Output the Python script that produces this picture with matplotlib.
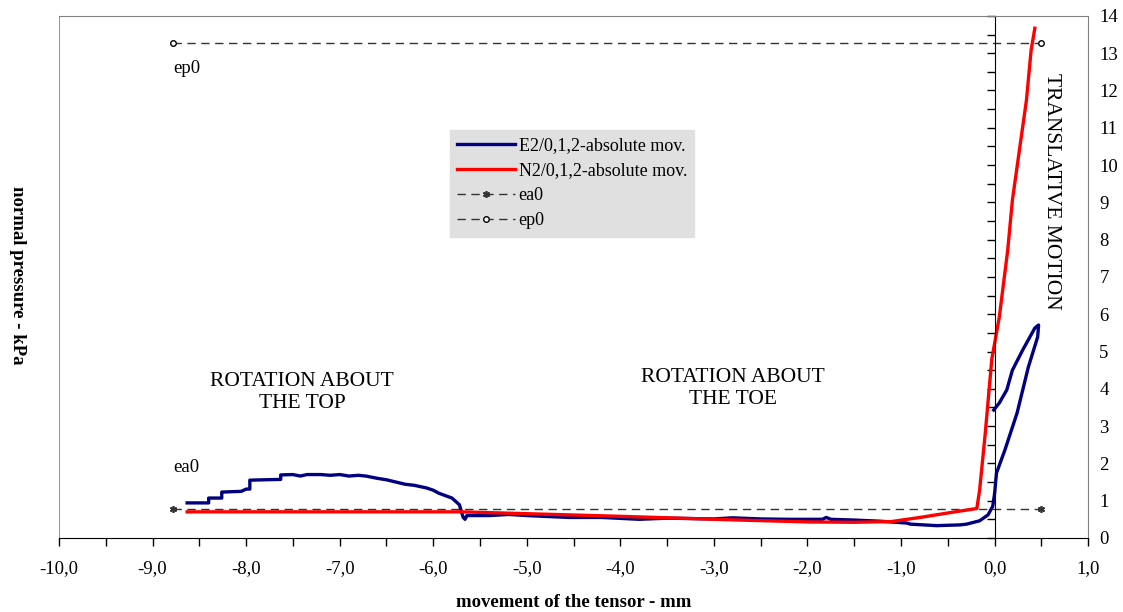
import matplotlib
matplotlib.use("Agg")
import matplotlib.pyplot as plt
from matplotlib.lines import Line2D

plt.rcParams['font.family'] = ['Liberation Serif', 'DejaVu Serif']

# E2/0,1,2 - absolute movement (blue)
e2_x = [-8.63, -8.40, -8.40, -8.26, -8.26, -8.05, -8.00, -7.96, -7.96, -7.63, -7.63,
        -7.50, -7.42, -7.35, -7.20, -7.10, -7.00, -6.90, -6.80, -6.72, -6.60, -6.50,
        -6.40, -6.30, -6.20, -6.07, -6.00, -5.94, -5.80, -5.72, -5.68, -5.66, -5.64,
        -5.40, -5.19, -5.00, -4.55, -4.20, -3.80, -3.50, -3.00, -2.80, -2.50, -2.20,
        -1.84, -1.80, -1.75, -1.50, -1.23, -0.94, -0.90, -0.62, -0.37, -0.30, -0.16,
        -0.07, -0.02, 0.00, 0.02, 0.11, 0.24, 0.36, 0.46, 0.47, 0.43, 0.30, 0.19,
        0.13, 0.05, -0.01]
e2_y = [0.94, 0.94, 1.07, 1.07, 1.23, 1.25, 1.31, 1.31, 1.55, 1.57, 1.69,
        1.70, 1.66, 1.70, 1.70, 1.68, 1.70, 1.66, 1.68, 1.66, 1.60, 1.56,
        1.50, 1.44, 1.41, 1.34, 1.28, 1.20, 1.07, 0.89, 0.55, 0.50, 0.60,
        0.60, 0.63, 0.60, 0.55, 0.55, 0.50, 0.53, 0.51, 0.54, 0.51, 0.50,
        0.50, 0.55, 0.50, 0.48, 0.45, 0.40, 0.37, 0.33, 0.35, 0.37, 0.46,
        0.62, 0.85, 1.20, 1.74, 2.36, 3.35, 4.58, 5.39, 5.71, 5.63, 5.04, 4.50,
        3.97, 3.62, 3.43]

# N2/0,1,2 - absolute movement (red)
n2_x = [-8.63, -5.70, -4.00, -2.73, -2.00, -1.50, -1.10, -0.77, -0.50, -0.19,
        -0.16, -0.10, -0.03, 0.05, 0.14, 0.19, 0.34, 0.39, 0.43]
n2_y = [0.70, 0.70, 0.58, 0.48, 0.43, 0.42, 0.44, 0.56, 0.67, 0.79,
        1.29, 2.81, 4.80, 5.92, 7.72, 9.06, 11.74, 13.08, 13.67]

# earth pressure at rest / passive reference lines
ea0_x = [-8.78, 0.5]
ea0_y = [0.78, 0.78]
ep0_x = [-8.78, 0.5]
ep0_y = [13.27, 13.27]

xticks = list(range(-10, 2))
xlabels = ["%d,0" % t for t in xticks]
yticks = list(range(0, 15))

fig = plt.figure(figsize=(11.23, 6.12), dpi=100)
ax = fig.add_axes([0.0525, 0.121, 0.9165, 0.853])

ax.plot(ea0_x, ea0_y, color='#333333', lw=1, dashes=(6, 4), marker=(6, 2, 0),
        ms=5, mew=1.2, label='ea0')
ax.plot(ep0_x, ep0_y, color='#333333', lw=1, dashes=(6, 4), marker='o',
        ms=4, mfc='white', mec='black', mew=1, label='ep0')
ax.plot(e2_x, e2_y, color='#000080', lw=2.4, label='E2/0,1,2-absolute mov.')
ax.plot(n2_x, n2_y, color='#ff0000', lw=2.4, label='N2/0,1,2-absolute mov.')

ax.set_xlim(-10, 1)
ax.set_ylim(0, 14)

# axes frame: gray box, y axis crossing at x=0
ax.spines['left'].set_position(('data', 0))
ax.spines['left'].set_color('black')
ax.spines['bottom'].set_color('black')
ax.spines['top'].set_color('#808080')
ax.spines['right'].set_color('#808080')
ax.add_line(Line2D([0, 0], [0, 1], transform=ax.transAxes, color='#808080', lw=1.2, zorder=0.5))

ax.set_xticks(xticks)
ax.set_xticklabels(xlabels)
ax.set_xticks([t + 0.5 for t in xticks[:-1]], minor=True)
ax.set_yticks(yticks)
ax.set_yticks([t + 0.5 for t in yticks[:-1]], minor=True)
ax.tick_params(axis='x', which='both', direction='out', length=6, width=1, labelsize=13.5, pad=10)
ax.tick_params(axis='y', which='both', left=True, right=False, labelleft=False,
               labelright=True, direction='out', length=6, width=1, labelsize=13.5, pad=2)

ax.set_xlabel('movement of the tensor - mm', fontsize=13.5, fontweight='bold', labelpad=12)
fig.text(0.016, 0.55, 'normal pressure - kPa', rotation=270, fontsize=13.5,
         fontweight='bold', ha='center', va='center')

ax.text(-8.78, 12.6, 'ep0', fontsize=13.5, ha='left', va='center')
ax.text(-8.78, 1.9, 'ea0', fontsize=13.5, ha='left', va='center')
ax.text(-7.4, 3.9, 'ROTATION ABOUT\nTHE TOP', fontsize=15.5, ha='center', va='center')
ax.text(-2.8, 4.0, 'ROTATION ABOUT\nTHE TOE', fontsize=15.5, ha='center', va='center')
ax.text(0.61, 9.3, 'TRANSLATIVE MOTION', fontsize=15.5, rotation=270, ha='center', va='center')

handles, labels = ax.get_legend_handles_labels()
order = [2, 3, 0, 1]
leg = ax.legend([handles[i] for i in order], [labels[i] for i in order],
                loc='upper left', bbox_to_anchor=(0.38, 0.782), borderaxespad=0,
                fontsize=13, frameon=True, fancybox=False, handlelength=3.2,
                handletextpad=0.2, labelspacing=0.45, borderpad=0.4)
leg.get_frame().set_facecolor('#e0e0e0')
leg.get_frame().set_edgecolor('#e0e0e0')
leg.get_frame().set_alpha(1)

fig.savefig('out.png', dpi=100)
